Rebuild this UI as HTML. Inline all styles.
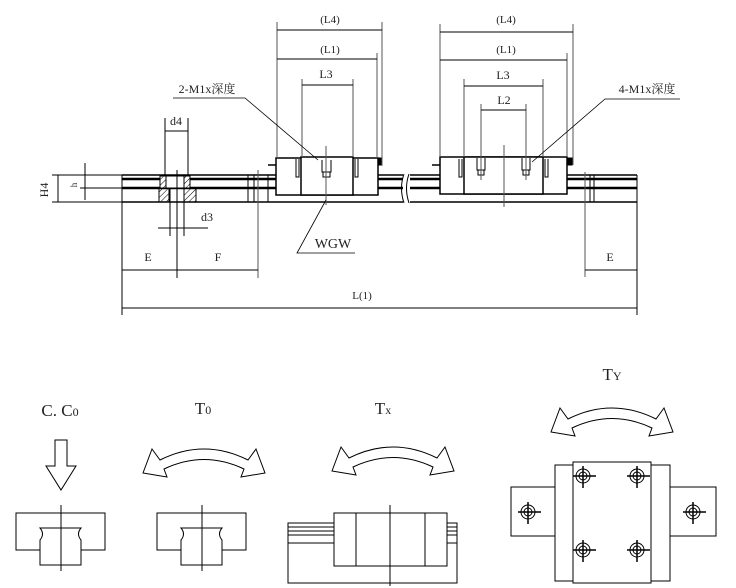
<!DOCTYPE html>
<html><head><meta charset="utf-8"><style>
html,body{margin:0;padding:0;background:#fff;width:736px;height:588px;overflow:hidden}
svg{display:block}
text{font-family:"Liberation Serif","Noto Serif CJK SC",serif;fill:#222}
</style></head><body>
<svg width="736" height="588" viewBox="0 0 736 588" xmlns="http://www.w3.org/2000/svg">
<defs>
<pattern id="h" width="4" height="4" patternUnits="userSpaceOnUse" patternTransform="rotate(45)"><line x1="0" y1="0" x2="0" y2="4" stroke="#000" stroke-width="1"/></pattern>
</defs>
<g stroke="#000" fill="none" stroke-width="1">
<line x1="122" y1="175" x2="403" y2="175" stroke-width="1.5"/><line x1="410" y1="175" x2="637" y2="175" stroke-width="1.5"/>
<line x1="122" y1="179" x2="403" y2="179" stroke-width="2.5"/><line x1="410" y1="179" x2="637" y2="179" stroke-width="2.5"/>
<line x1="122" y1="188" x2="403" y2="188" stroke-width="2.5"/><line x1="410" y1="188" x2="637" y2="188" stroke-width="2.5"/>
<line x1="122" y1="202" x2="403" y2="202" stroke-width="1.5"/><line x1="410" y1="202" x2="637" y2="202" stroke-width="1.5"/>
<line x1="122" y1="175" x2="122" y2="315"/><line x1="637" y1="175" x2="637" y2="315"/>
<path d="M404,174 Q399,188 404,203 M409,174 Q404,188 409,203"/>
<rect x="160" y="176" width="30" height="12" fill="#fff" stroke="none"/>
<rect x="160" y="176" width="6" height="12" fill="url(#h)"/><rect x="184" y="176" width="6" height="12" fill="url(#h)"/>
<rect x="159" y="188" width="10" height="14" fill="url(#h)"/><rect x="184" y="188" width="12" height="14" fill="url(#h)"/>
<line x1="166" y1="176" x2="184" y2="176"/><line x1="169" y1="188" x2="184" y2="188"/>
<line x1="165" y1="118" x2="165" y2="176"/><line x1="188" y1="118" x2="188" y2="176"/>
<line x1="165" y1="131" x2="188" y2="131"/>
<line x1="177" y1="170" x2="177" y2="278"/>
<line x1="170" y1="188" x2="170" y2="236"/><line x1="184" y1="188" x2="184" y2="236"/>
<line x1="158" y1="228" x2="208" y2="228"/>
<line x1="248" y1="175" x2="248" y2="202"/><line x1="254" y1="175" x2="254" y2="202"/>
<line x1="258" y1="170" x2="258" y2="278" stroke="#555"/>
<line x1="268" y1="175" x2="268" y2="202"/>
<line x1="52" y1="175" x2="122" y2="175"/><line x1="52" y1="202" x2="122" y2="202"/>
<line x1="58" y1="175" x2="58" y2="202"/>
<line x1="85" y1="163" x2="85" y2="200"/><line x1="80" y1="188" x2="122" y2="188"/>
<line x1="122" y1="270" x2="258" y2="270"/>
<line x1="585" y1="172" x2="585" y2="277" stroke="#555"/><line x1="590" y1="175" x2="590" y2="202"/><line x1="594" y1="175" x2="594" y2="202"/>
<line x1="585" y1="270" x2="637" y2="270"/>
<line x1="122" y1="308" x2="637" y2="308"/>
<rect x="276" y="158" width="102" height="37" fill="#fff" stroke-width="1.5"/>
<rect x="301" y="157" width="52" height="38" fill="#fff" stroke-width="1.5"/>
<path d="M296,159 V177 H299 V159 M355,159 V177 H358 V159"/>
<line x1="268" y1="165" x2="276" y2="165" stroke-width="1.5"/>
<rect x="378" y="158" width="4" height="7" fill="#000"/>
<path d="M322,160 V172 H331 V160 M323,172 V177 H330 V172"/>
<line x1="326" y1="146" x2="326" y2="205" stroke="#555"/>
<line x1="277" y1="22" x2="277" y2="158" stroke="#555"/><line x1="382" y1="22" x2="382" y2="165" stroke="#555"/>
<line x1="377" y1="53" x2="377" y2="158" stroke="#555"/>
<line x1="302" y1="79" x2="302" y2="157" stroke="#555"/><line x1="353" y1="79" x2="353" y2="157" stroke="#555"/>
<line x1="277" y1="30" x2="382" y2="30"/><line x1="277" y1="59" x2="377" y2="59"/><line x1="302" y1="85" x2="353" y2="85"/>
<path d="M173,98 H245 L318,160" stroke-width="0.8"/>
<path d="M326,200 L297,253 H355" stroke-width="0.8"/>
<rect x="440" y="157" width="127" height="37" fill="#fff" stroke-width="1.5"/>
<rect x="464" y="157" width="79" height="37" fill="#fff" stroke-width="1.5"/>
<path d="M459,159 V177 H462 V159 M545,159 V177 H548 V159"/>
<line x1="432" y1="165" x2="440" y2="165" stroke-width="1.5"/>
<rect x="567" y="158" width="5" height="7" fill="#000"/>
<path d="M477,158 V170 H485 V158 M478,170 V175 H484 V170 M522,158 V170 H530 V158 M523,170 V175 H529 V170"/>
<line x1="504" y1="145" x2="504" y2="207" stroke="#555"/>
<line x1="440" y1="24" x2="440" y2="157" stroke="#555"/><line x1="573" y1="24" x2="573" y2="165" stroke="#555"/>
<line x1="567" y1="53" x2="567" y2="157" stroke="#555"/>
<line x1="464" y1="79" x2="464" y2="157" stroke="#555"/><line x1="543" y1="79" x2="543" y2="157" stroke="#555"/>
<line x1="481" y1="104" x2="481" y2="180" stroke="#555"/><line x1="526" y1="104" x2="526" y2="180" stroke="#555"/>
<line x1="440" y1="32" x2="573" y2="32"/><line x1="440" y1="60" x2="567" y2="60"/><line x1="464" y1="86" x2="543" y2="86"/><line x1="481" y1="110" x2="526" y2="110"/>
<path d="M680,99 H605 L532,162" stroke-width="0.8"/>
</g>
<g font-size="11" text-anchor="middle">
<text x="330" y="23">(L4)</text><text x="330" y="53">(L1)</text><text x="326" y="78" font-size="12">L3</text>
<text x="506" y="23">(L4)</text><text x="506" y="53">(L1)</text><text x="503" y="79" font-size="12">L3</text><text x="504" y="104" font-size="12">L2</text>
<text x="207" y="93" font-size="12">2-M1x深度</text><text x="647" y="93" font-size="12">4-M1x深度</text>
<text x="176" y="125" font-size="12">d4</text><text x="207" y="221" font-size="12">d3</text>
<text x="148" y="261" font-size="12">E</text><text x="218" y="261" font-size="12">F</text><text x="610" y="261" font-size="12">E</text>
<text x="362" y="299" font-size="11">L(1)</text>
<text x="333" y="248" font-size="14">WGW</text>
<text x="74" y="188" font-size="9" transform="rotate(-90 74 185)">h</text>
<text x="48" y="190" font-size="12" transform="rotate(-90 48 190)">H4</text>
</g>
<g font-size="17" text-anchor="middle">
<text x="60" y="416">C. C<tspan font-size="12">0</tspan></text>
<text x="203" y="414">T<tspan font-size="12">0</tspan></text>
<text x="383" y="414">T<tspan font-size="12">x</tspan></text>
<text x="612" y="380">T<tspan font-size="12">Y</tspan></text>
</g>
<g stroke="#000" fill="#fff" stroke-width="1">
<path d="M55,440 H67 V466 H76 L61,490 L46,466 H55 Z"/>
<path id="arr" d="M143,473 L152,449 L160,460 Q204,438 248,460 L256,449 L265,473 L241,477 L244,469 Q204,450 164,469 L167,477 Z"/>
<use href="#arr" transform="translate(189,-2)"/>
<use href="#arr" transform="translate(408,-41)"/>
<path id="blk" d="M16,513 H105 V550 H81 V565 H40 V550 H16 Z M40,550 V540 Q45,534 40,528 H81 Q76,534 81,540 V550"/>
<line x1="61" y1="505" x2="61" y2="571"/>
<use href="#blk" transform="translate(141,0)"/>
<line x1="202" y1="505" x2="202" y2="571"/>
<rect x="288" y="523" width="169" height="60"/>
<line x1="288" y1="527" x2="457" y2="527"/><line x1="288" y1="531" x2="457" y2="531"/><line x1="288" y1="535" x2="457" y2="535"/><line x1="288" y1="543" x2="457" y2="543"/>
<rect x="334" y="513" width="113" height="53"/>
<line x1="356" y1="513" x2="356" y2="566"/><line x1="425" y1="513" x2="425" y2="566"/>
<line x1="390" y1="505" x2="390" y2="586"/>
<rect x="511" y="487" width="44" height="49"/><rect x="670" y="487" width="46" height="49"/>
<rect x="555" y="465" width="115" height="116"/>
<rect x="573" y="462" width="78" height="121"/>
</g>
<g stroke="#000" fill="none" stroke-width="1">
<g id="hole"><circle cx="583" cy="476" r="7"/><circle cx="583" cy="476" r="4"/><line x1="573" y1="476" x2="596" y2="476" stroke-width="1.5"/><line x1="583" y1="466" x2="583" y2="488" stroke-width="1.5"/></g>
<use href="#hole" transform="translate(54,0)"/>
<use href="#hole" transform="translate(0,74)"/>
<use href="#hole" transform="translate(54,74)"/>
<use href="#hole" transform="translate(-55,36)"/>
<use href="#hole" transform="translate(110,36)"/>
</g>
</svg>
</body></html>
